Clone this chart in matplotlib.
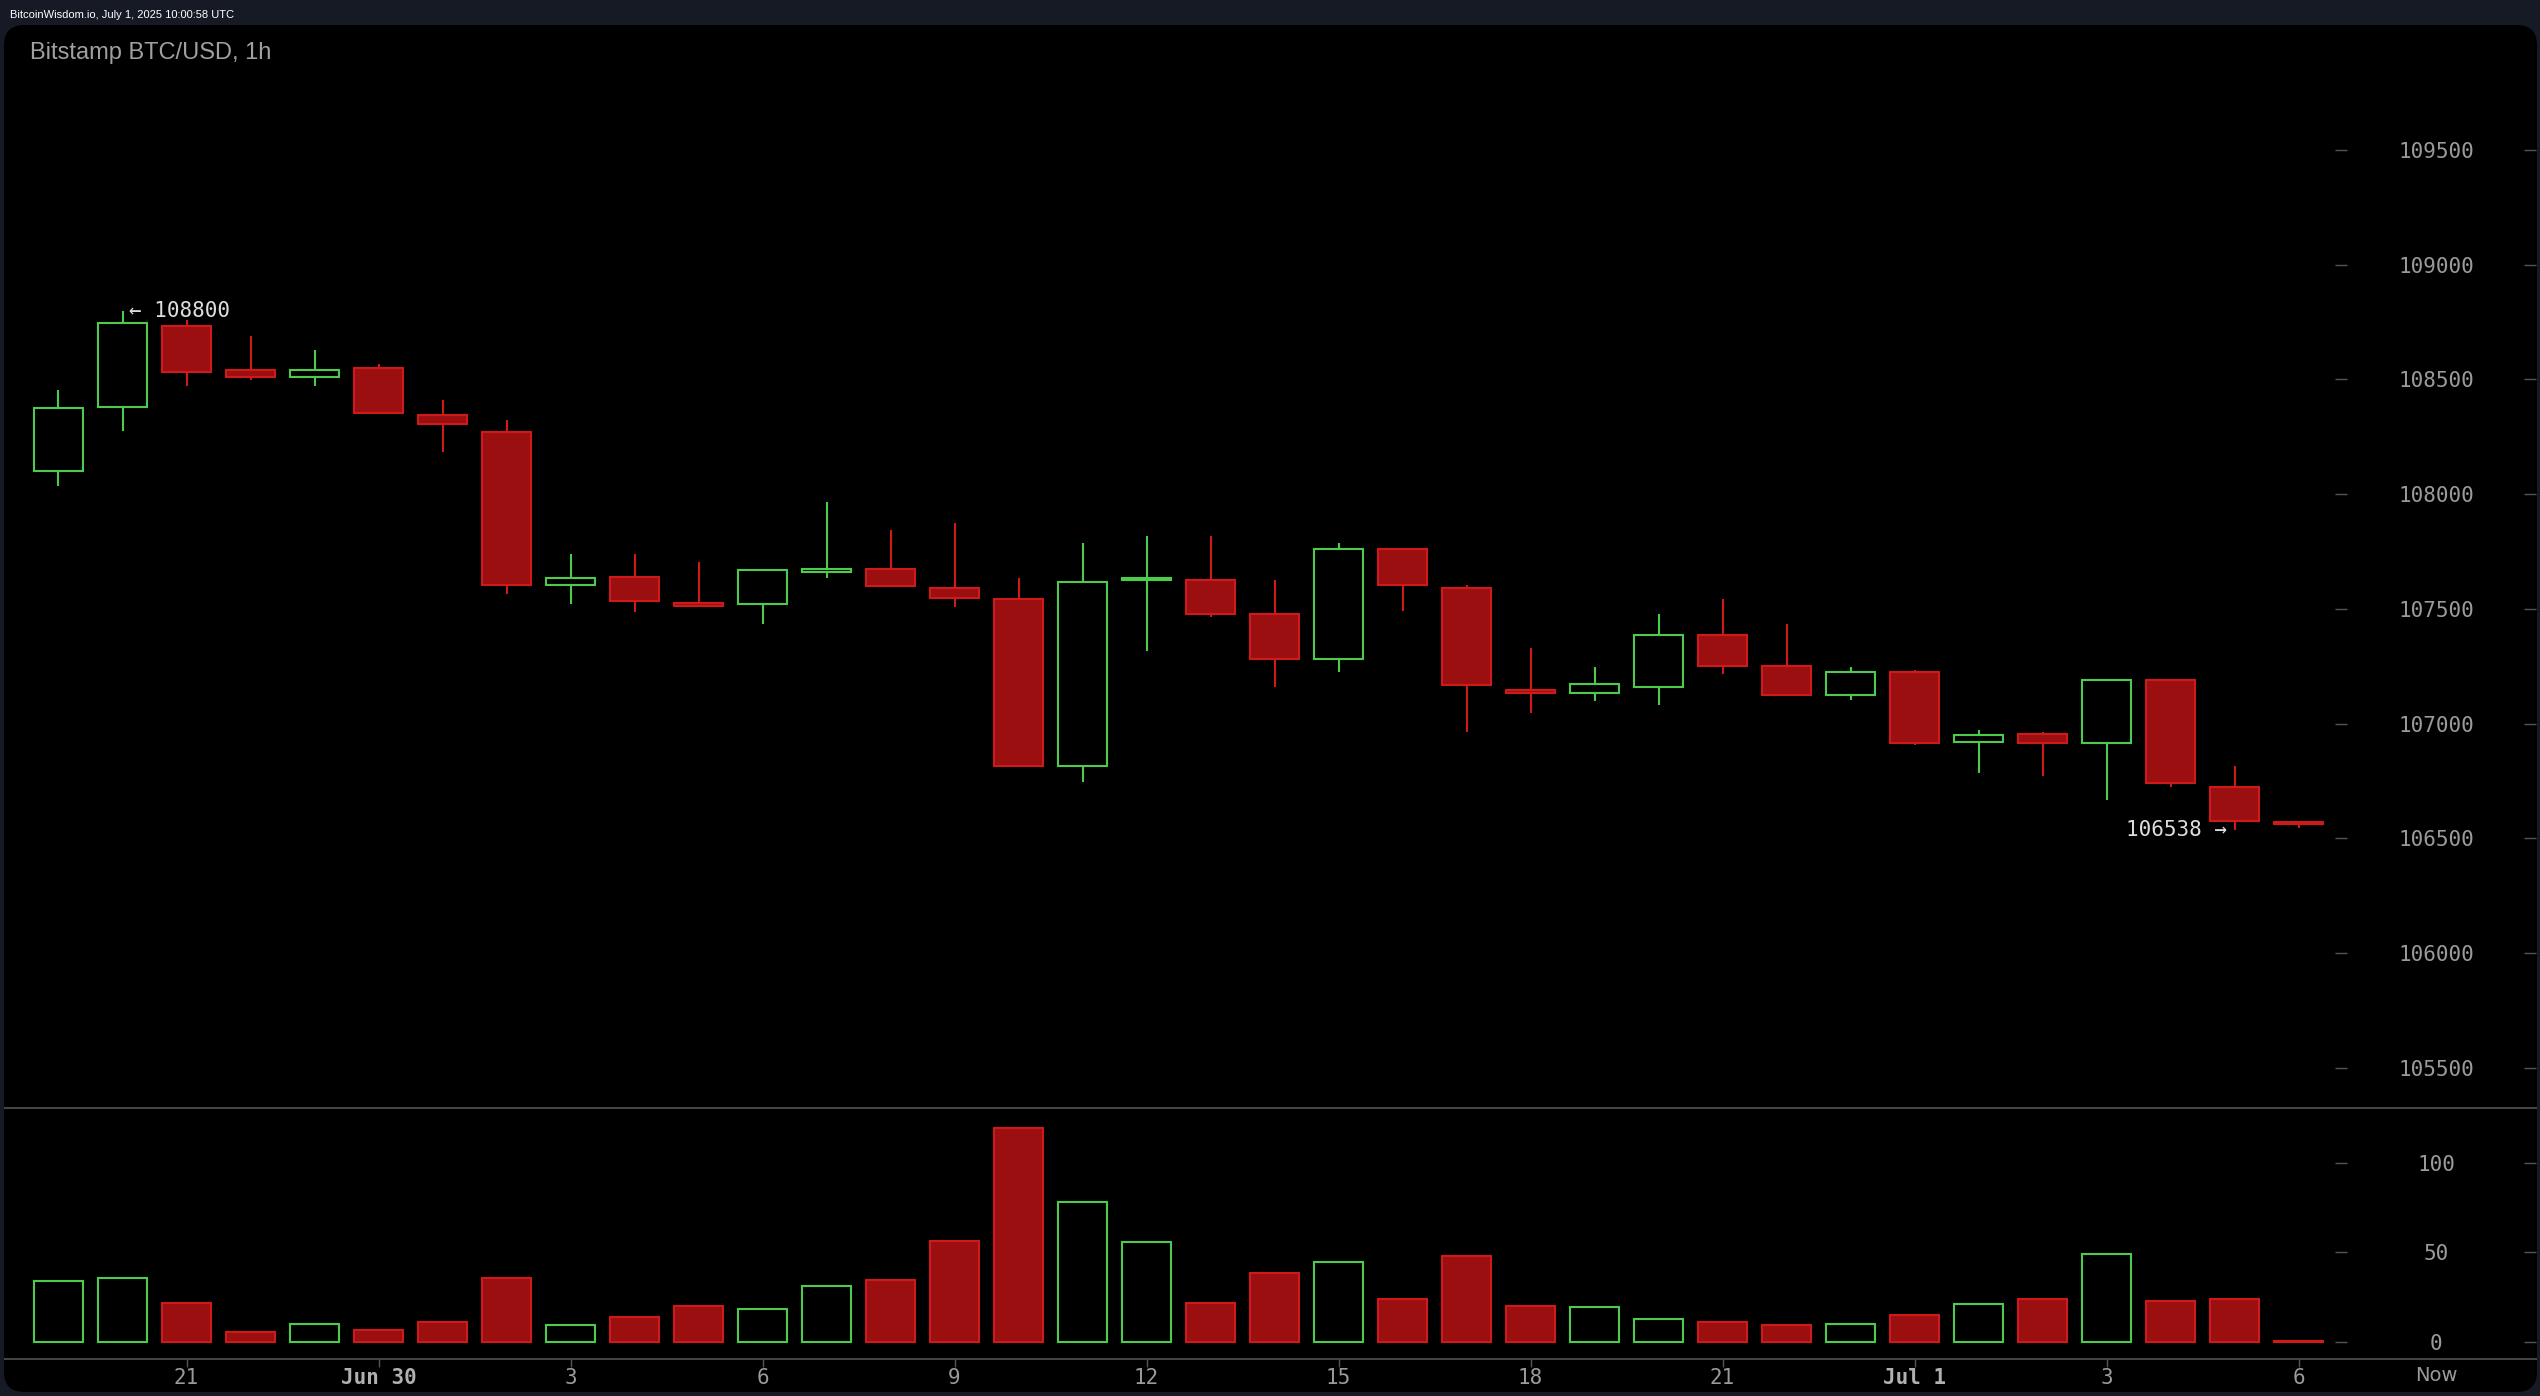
import matplotlib
matplotlib.use('Agg')
import matplotlib.pyplot as plt
from matplotlib.patches import FancyBboxPatch
import numpy as np

# hourly candles, Jun 29 19:00 -> Jul 1 06:00
opens = [108099, 108381, 108733, 108541, 108509, 108550, 108346, 108269, 107605, 107640,
         107527, 107520, 107661, 107675, 107591, 107541, 106814, 107625, 107626, 107478,
         107280, 107760, 107591, 107146, 107132, 107160, 107386, 107252, 107125, 107224,
         106920, 106955, 106913, 107188, 106725, 106571]
highs = [108452, 108800, 108759, 108689, 108628, 108567, 108410, 108325, 107739, 107739,
         107704, 107668, 107965, 107845, 107873, 107633, 107788, 107816, 107816, 107626,
         107788, 107760, 107605, 107330, 107245, 107478, 107541, 107436, 107245, 107235,
         106970, 106962, 107188, 107190, 106815, 106571]
lows = [108036, 108276, 108471, 108497, 108471, 108350, 108184, 107563, 107520, 107485,
        107506, 107436, 107633, 107598, 107506, 106814, 106744, 107315, 107464, 107160,
        107224, 107492, 106963, 107047, 107097, 107082, 107217, 107118, 107104, 106906,
        106786, 106772, 106667, 106722, 106538, 106545]
closes = [108375, 108747, 108534, 108509, 108541, 108352, 108304, 107605, 107633, 107534,
          107513, 107668, 107675, 107598, 107548, 106814, 107619, 107635, 107478, 107280,
          107760, 107605, 107167, 107132, 107174, 107386, 107252, 107125, 107224, 106913,
          106948, 106913, 107188, 106739, 106574, 106560]
volumes = [33.8, 35.7, 22.0, 5.8, 10.3, 6.7, 11.2, 35.7, 9.4, 13.9,
           20.3, 18.5, 31.1, 34.8, 56.5, 119.8, 78.2, 55.6, 22.0, 38.4,
           44.7, 23.9, 48.3, 20.3, 19.4, 13.0, 11.2, 9.4, 10.3, 14.8,
           21.2, 23.9, 49.2, 23.0, 23.9, 0.4]

xtick_pos = [2, 5, 8, 11, 14, 17, 20, 23, 26, 29, 32, 35]
xtick_labels = ['21', 'Jun 30', '3', '6', '9', '12', '15', '18', '21', 'Jul 1', '3', '6']
price_ticks = [105500, 106000, 106500, 107000, 107500, 108000, 108500, 109000, 109500]
vol_ticks = [0, 50, 100]
high_label = '← 108800'
low_label = '106538 →'

W, H = 2540, 1396
bg = '#161a25'
green = '#4ccb4c'
red_edge = '#d01a1a'
red_fill = '#9b0f10'
txt = '#9a9a9a'
sep = '#444444'
mono = 'DejaVu Sans Mono'

fig = plt.figure(figsize=(W / 100, H / 100), dpi=100, facecolor=bg)

def fx(px):
    return px / W

def fy(py):
    return 1 - py / H

panel = FancyBboxPatch((fx(4), fy(1392)), fx(2537) - fx(4), fy(25) - fy(1392),
                       boxstyle='round,pad=0,rounding_size=0.008',
                       transform=fig.transFigure, facecolor='black', edgecolor='none',
                       mutation_aspect=W / H, zorder=-5)
fig.patches.append(panel)

fig.text(fx(10), fy(18), 'BitcoinWisdom.io, July 1, 2025 10:00:58 UTC', color='white',
         fontsize=8, family='Liberation Sans', va='baseline', ha='left')

left, right = fx(5), fx(2536)
ax = fig.add_axes([left, fy(1108), right - left, fy(25) - fy(1108)])
axv = fig.add_axes([left, fy(1359), right - left, fy(1108) - fy(1359)])
for a in (ax, axv):
    a.set_facecolor('none')
    for s in a.spines.values():
        s.set_visible(False)

x = np.arange(len(opens))
o = np.array(opens); c = np.array(closes)
up = c >= o
edge = [green if u else red_edge for u in up]
face = ['black' if u else red_fill for u in up]
bw = 0.78

ax.vlines(x, lows, highs, colors=edge, linewidth=1.5, zorder=2)
ax.bar(x, np.maximum(np.abs(c - o), 1), bottom=np.minimum(o, c), width=bw,
       color=face, edgecolor=edge, linewidth=1.5, zorder=3)

axv.bar(x, volumes, width=bw, color=face, edgecolor=edge, linewidth=1.5, zorder=3)

xmin = (5 - 58.5) / 64
xmax = (2536 - 58.5) / 64

fig.text(fx(30), fy(59), 'Bitstamp BTC/USD, 1h', color='#a0a0a0', fontsize=17,
         family='Liberation Sans', va='baseline', ha='left')

# y axes: labels drawn inside at right
for a, ticks in ((ax, price_ticks), (axv, vol_ticks)):
    a.yaxis.tick_right()
    a.set_yticks(ticks, labels=[str(t) for t in ticks], ha='center',
                 family=mono, fontsize=15, color=txt)
    a.tick_params(axis='y', direction='in', length=8.6, width=1, color='#555555',
                  pad=-72)
    a.hlines(ticks, 0.9205, 0.9255, transform=a.get_yaxis_transform(),
             colors='#555555', linewidth=1)
ax.set_xlim(xmin, xmax)
axv.set_xlim(xmin, xmax)
ax.set_ylim(105324, 110045)
axv.set_ylim(-9.5, 130.7)

ax.set_xticks([])
for side in ('top', 'bottom'):
    axv.spines[side].set_visible(True)
    axv.spines[side].set_color(sep)
    axv.spines[side].set_linewidth(1.5)
axv.set_xticks(xtick_pos, labels=xtick_labels, family=mono, fontsize=15)
axv.tick_params(axis='x', direction='out', length=5.8, width=1, color='#555555',
                labelcolor=txt, pad=1)
for lab in axv.get_xticklabels():
    if ' ' in lab.get_text():
        lab.set_fontweight('bold')
        lab.set_color('#b0b0b0')
axv.text(37.15, -0.064, 'Now', transform=axv.get_xaxis_transform(), ha='center',
         va='center', family='DejaVu Sans', fontsize=14, color=txt)

hi_i = int(np.argmax(highs))
lo_i = int(np.argmin(lows))
ax.text(hi_i + 0.1, highs[hi_i], high_label, ha='left', va='center', family=mono,
        fontsize=15, color='#dddddd', zorder=5)
ax.text(lo_i - 0.12, lows[lo_i], low_label, ha='right', va='center', family=mono,
        fontsize=15, color='#dddddd', zorder=5)

fig.savefig('out.png', dpi=100, facecolor=bg)
